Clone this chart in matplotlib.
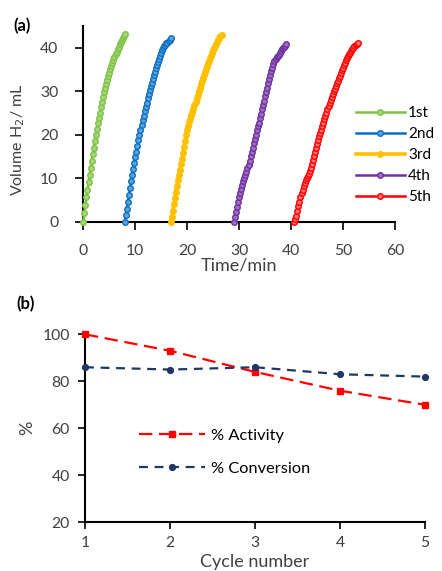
import numpy as np
import matplotlib.pyplot as plt

plt.rcParams['font.family'] = ['Lato', 'DejaVu Sans']
plt.rcParams['font.size'] = 11

#%% (a) 수소 발생량 데이터 (Time/min, Volume H2/mL)
t_1st = [0, 0.2, 0.4, 0.6, 0.8, 1.0, 1.2, 1.4, 1.6, 1.8, 2.0, 2.2, 2.4, 2.6, 2.8, 3.0, 3.2, 3.4, 3.6, 3.8,
         4.0, 4.2, 4.4, 4.6, 4.8, 5.0, 5.2, 5.4, 5.6, 5.8, 6.0, 6.2, 6.4, 6.6, 6.8, 7.0, 7.2, 7.4, 7.6, 7.8, 8.0]
v_1st = [0, 1.9, 3.8, 5.6, 7.4, 9.1, 10.8, 12.4, 14.0, 15.5, 17.0, 18.5, 20.0, 21.3, 22.6, 23.9, 25.1, 26.3, 27.5, 28.7,
         29.8, 30.8, 31.7, 32.6, 33.4, 34.2, 35.0, 35.7, 36.4, 37.1, 37.8, 38.5, 39.1, 39.7, 40.2, 40.8, 41.3, 41.8, 42.3, 42.8, 43.2]

t_2nd = [8.0, 8.2, 8.4, 8.6, 8.8, 9.0, 9.2, 9.4, 9.6, 9.8, 10.0, 10.2, 10.4, 10.6, 10.8, 11.0, 11.2, 11.4, 11.6, 11.8,
         12.0, 12.2, 12.4, 12.6, 12.8, 13.0, 13.2, 13.4, 13.6, 13.8, 14.0, 14.2, 14.4, 14.6, 14.8, 15.0, 15.2, 15.4, 15.6, 15.8,
         16.0, 16.2, 16.4, 16.6, 16.8]
v_2nd = [0, 1.5, 3.0, 4.6, 6.2, 7.8, 9.3, 10.7, 12.1, 13.5, 14.8, 16.1, 17.4, 18.7, 20.0, 21.1, 22.2, 23.3, 24.4, 25.4,
         26.4, 27.4, 28.4, 29.4, 30.3, 31.2, 32.0, 32.9, 33.7, 34.5, 35.3, 36.0, 36.8, 37.5, 38.2, 38.8, 39.5, 40.0, 40.4, 40.7,
         41.0, 41.2, 41.5, 41.8, 42.2]

t_3rd = [16.8, 17.0, 17.2, 17.4, 17.6, 17.8, 18.0, 18.2, 18.4, 18.6, 18.8, 19.0, 19.2, 19.4, 19.6, 19.8, 20.0, 20.2, 20.4, 20.6,
         20.8, 21.0, 21.2, 21.4, 21.6, 21.8, 22.0, 22.2, 22.4, 22.6, 22.8, 23.0, 23.2, 23.4, 23.6, 23.8, 24.0, 24.2, 24.4, 24.6,
         24.8, 25.0, 25.2, 25.4, 25.6, 25.8, 26.0, 26.2, 26.4, 26.6]
v_3rd = [0, 1.0, 2.5, 4.0, 5.4, 6.8, 8.2, 9.5, 10.8, 12.0, 13.2, 14.5, 15.8, 17.2, 18.6, 20.0, 21.0, 22.0, 22.9, 23.7,
         24.5, 25.3, 26.0, 26.8, 27.6, 28.4, 29.2, 30.0, 30.8, 31.6, 32.3, 33.0, 33.7, 34.4, 35.1, 35.7, 36.4, 37.0, 37.6, 38.2,
         38.8, 39.4, 39.9, 40.4, 40.9, 41.3, 41.8, 42.2, 42.6, 42.9]

t_4th = [29.0, 29.2, 29.4, 29.6, 29.8, 30.0, 30.2, 30.4, 30.6, 30.8, 31.0, 31.2, 31.4, 31.6, 31.8, 32.0, 32.2, 32.4, 32.6, 32.8,
         33.0, 33.2, 33.4, 33.6, 33.8, 34.0, 34.2, 34.4, 34.6, 34.8, 35.0, 35.2, 35.4, 35.6, 35.8, 36.0, 36.2, 36.4, 36.6, 36.8,
         37.0, 37.2, 37.4, 37.6, 37.8, 38.0, 38.2, 38.4, 38.6, 38.8, 39.0]
v_4th = [0, 1.0, 2.2, 3.4, 4.6, 5.6, 6.6, 7.6, 8.5, 9.3, 10.0, 10.7, 11.5, 12.3, 13.1, 14.0, 15.0, 16.0, 17.0, 18.0,
         19.0, 20.0, 21.0, 21.9, 22.8, 23.8, 24.8, 25.8, 26.8, 27.8, 28.8, 29.8, 30.8, 31.8, 32.8, 33.7, 34.6, 35.4, 36.2, 36.9,
         37.4, 37.8, 38.1, 38.4, 38.8, 39.2, 39.6, 39.9, 40.2, 40.5, 40.8]

t_5th = [40.6, 40.8, 41.0, 41.2, 41.4, 41.6, 41.8, 42.0, 42.2, 42.4, 42.6, 42.8, 43.0, 43.2, 43.4, 43.6, 43.8, 44.0, 44.2, 44.4,
         44.6, 44.8, 45.0, 45.2, 45.4, 45.6, 45.8, 46.0, 46.2, 46.4, 46.6, 46.8, 47.0, 47.2, 47.4, 47.6, 47.8, 48.0, 48.2, 48.4,
         48.6, 48.8, 49.0, 49.2, 49.4, 49.6, 49.8, 50.0, 50.2, 50.4, 50.6, 50.8, 51.0, 51.2, 51.4, 51.6, 51.8, 52.0, 52.2, 52.4,
         52.6, 52.8]
v_5th = [0, 0.6, 1.3, 2.5, 3.6, 4.6, 5.6, 6.5, 7.4, 8.2, 8.9, 9.5, 10.0, 10.4, 10.9, 11.6, 12.4, 13.3, 14.2, 15.1,
         16.0, 16.9, 17.8, 18.7, 19.6, 20.4, 21.2, 22.0, 22.8, 23.6, 24.4, 25.1, 25.8, 26.6, 27.3, 28.0, 28.7, 29.4, 30.0, 30.6,
         31.2, 31.8, 32.4, 33.0, 33.6, 34.2, 34.8, 35.4, 36.0, 36.6, 37.1, 37.6, 38.1, 38.5, 38.9, 39.3, 39.7, 40.0, 40.3, 40.6,
         40.9, 41.2]

cycle_names = ['1st', '2nd', '3rd', '4th', '5th']
cycle_colors = ['#7DC243', '#0A70C0', '#FFC000', '#7030A0', '#FF0000']
cycle_faces = ['#A6D67E', '#5FA3DA', '#FFC000', '#9C70C0', '#FF7070']

#%% (b) 사이클 데이터
cycle_no = [1, 2, 3, 4, 5]
activity = [100, 93, 84, 76, 70]
conversion = [86, 85, 86, 83, 82]

# 글자 크기
tick_fs = 11.3
label_fs = 13
legend_fs = 11
text_col = '#404040'

#%% 그래프
fig = plt.figure(figsize=(4.42, 5.71), dpi=100)

# (a)
ax1 = fig.add_axes([0.1885, 0.6117, 0.7052, 0.3428])
t_list = [t_1st, t_2nd, t_3rd, t_4th, t_5th]
v_list = [v_1st, v_2nd, v_3rd, v_4th, v_5th]
for i in range(5):
    lw = 2.6 if i == 2 else 1.8
    ax1.plot(t_list[i], v_list[i], color=cycle_colors[i], linewidth=lw, marker='o', markersize=4,
             markerfacecolor=cycle_faces[i], markeredgecolor=cycle_colors[i], markeredgewidth=1,
             label=cycle_names[i], clip_on=False, zorder=3)

ax1.set_xlim(0, 60)
ax1.set_ylim(0, 45)
ax1.set_xticks(range(0, 61, 10))
ax1.set_yticks(range(0, 41, 10))
ax1.spines['top'].set_visible(False)
ax1.spines['right'].set_visible(False)
ax1.spines['left'].set_linewidth(1.5)
ax1.spines['bottom'].set_linewidth(1.5)
ax1.tick_params(direction='out', length=6, width=1.2, labelsize=tick_fs, labelcolor=text_col)
ax1.tick_params(axis='y', pad=12)
ax1.tick_params(axis='x', pad=10)
ax1.set_xlabel('Time/min', fontsize=label_fs, labelpad=0, color=text_col)
ax1.set_ylabel('Volume H$_2$/ mL', fontsize=11.5, color=text_col)
ax1.yaxis.set_label_coords(-0.18, 0.42)
ax1.legend(loc='upper left', bbox_to_anchor=(0.855, 0.62), frameon=False, fontsize=legend_fs,
           handlelength=3.2, handletextpad=0.2, labelspacing=0.45, borderaxespad=0)
fig.text(0.03, 0.955, '(a)', fontsize=12, fontweight='bold', va='center')

# (b)
ax2 = fig.add_axes([0.1923, 0.0853, 0.7692, 0.3292])
ax2.plot(cycle_no, activity, color='#FF0000', linestyle=(0, (6, 3)), linewidth=1.6,
         marker='s', markersize=5, label='% Activity', clip_on=False, zorder=3)
ax2.plot(cycle_no, conversion, color='#1F3864', linestyle=(0, (4, 3)), linewidth=1.6,
         marker='o', markersize=4.2, label='% Conversion', clip_on=False, zorder=3)

ax2.set_xlim(1, 5)
ax2.set_ylim(20, 100)
ax2.set_xticks(cycle_no)
ax2.set_yticks(range(20, 101, 20))
ax2.spines['top'].set_visible(False)
ax2.spines['right'].set_visible(False)
ax2.spines['left'].set_linewidth(1.5)
ax2.spines['bottom'].set_linewidth(1.5)
ax2.tick_params(direction='out', length=5, width=1.2, labelsize=tick_fs, labelcolor=text_col)
ax2.tick_params(axis='y', pad=6)
ax2.tick_params(axis='x', pad=5)
ax2.set_xlabel('Cycle number', fontsize=label_fs, labelpad=3, color=text_col)
ax2.set_ylabel('%', fontsize=label_fs, labelpad=5, color=text_col)
ax2.legend(loc='center left', bbox_to_anchor=(0.14, 0.373), frameon=False, fontsize=11.8,
           handlelength=4.0, handletextpad=0.4, labelspacing=1.1, borderaxespad=0)
fig.text(0.038, 0.467, '(b)', fontsize=12, fontweight='bold', va='center')

fig.savefig('out.png', dpi=100)
